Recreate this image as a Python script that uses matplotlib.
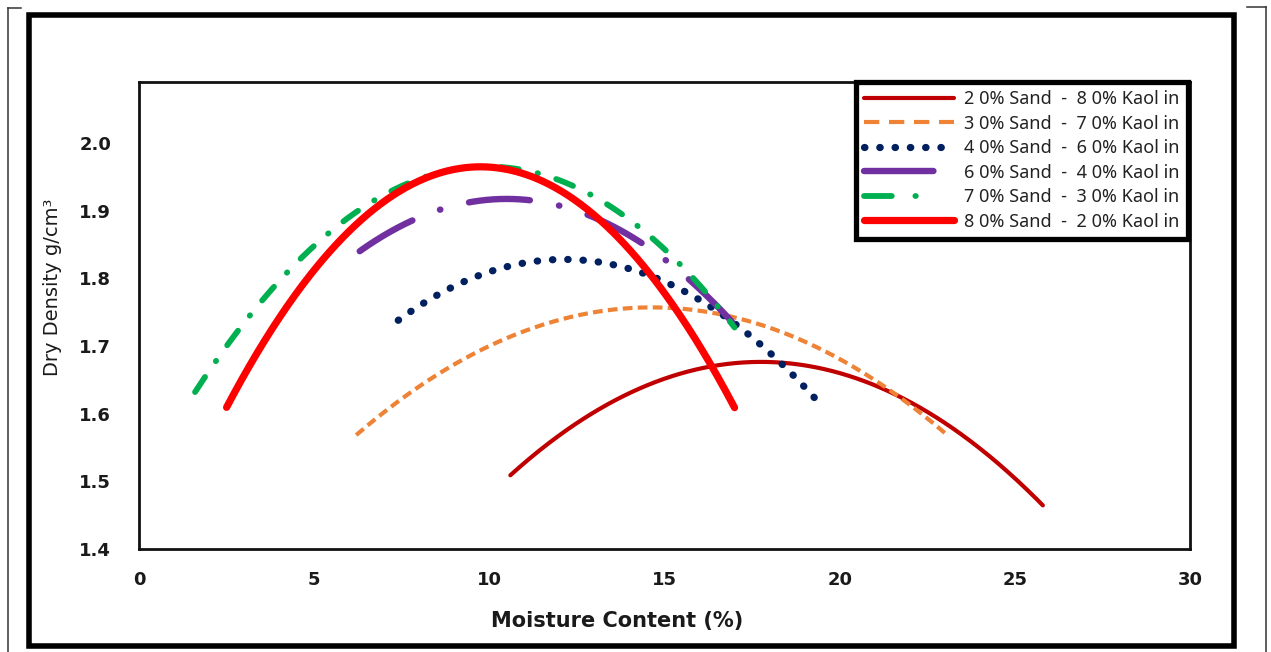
import numpy as np
import matplotlib
matplotlib.use("Agg")
import matplotlib.pyplot as plt
from matplotlib.lines import Line2D
from matplotlib.patches import Rectangle
from matplotlib.ticker import FormatStrFormatter

plt.rcParams["lines.scale_dashes"] = False
plt.rcParams["font.family"] = ["Noto Sans", "DejaVu Sans"]
AXIS_FAMILY = ["DejaVu Sans"]

# Compaction test readings: moisture content (%) vs dry density (g/cm3)
moisture_20_80 = [10.6, 13.0, 15.5, 18.0, 20.5, 23.0, 25.8]
density_20_80 = [1.508, 1.603, 1.661, 1.677, 1.651, 1.584, 1.466]

moisture_30_70 = [6.2, 9.0, 12.0, 14.6, 17.0, 20.0, 23.0]
density_30_70 = [1.568, 1.673, 1.739, 1.757, 1.742, 1.680, 1.572]

moisture_40_60 = [7.4, 9.0, 11.0, 12.1, 14.0, 16.0, 18.0, 19.5]
density_40_60 = [1.738, 1.788, 1.823, 1.828, 1.814, 1.768, 1.690, 1.611]

moisture_60_40 = [6.3, 8.0, 10.5, 13.0, 15.0, 17.3]
density_60_40 = [1.840, 1.890, 1.917, 1.890, 1.828, 1.714]

moisture_70_30 = [1.6, 4.0, 7.0, 10.0, 13.0, 15.0, 17.0]
density_70_30 = [1.632, 1.796, 1.923, 1.965, 1.921, 1.843, 1.727]

moisture_80_20 = [2.5, 5.0, 7.5, 9.8, 12.5, 15.0, 17.0]
density_80_20 = [1.610, 1.811, 1.931, 1.964, 1.914, 1.779, 1.608]

labels = [
    "2 0% Sand  -  8 0% Kaol in",
    "3 0% Sand  -  7 0% Kaol in",
    "4 0% Sand  -  6 0% Kaol in",
    "6 0% Sand  -  4 0% Kaol in",
    "7 0% Sand  -  3 0% Kaol in",
    "8 0% Sand  -  2 0% Kaol in",
]

x_ticks = [0, 5, 10, 15, 20, 25, 30]
y_ticks = [1.4, 1.5, 1.6, 1.7, 1.8, 1.9, 2.0]

W, H = 1271, 652
fig = plt.figure(figsize=(W / 100, H / 100), dpi=100)
fig.patch.set_facecolor("white")


def fx(px):
    return px / W


def fy(py):
    return 1 - py / H


ax = fig.add_axes([fx(139), fy(549), (1190 - 139) / W, (549 - 82) / H])

series = [
    (moisture_20_80, density_20_80, dict(color="#C00000", lw=3.0, solid_capstyle="round")),
    (moisture_30_70, density_30_70, dict(color="#EE8235", lw=3.0, dashes=(7, 3.8), dash_capstyle="butt")),
    (moisture_40_60, density_40_60, dict(color="#002060", lw=5.2, dashes=(0.3, 10.7), dash_capstyle="round")),
    (moisture_60_40, density_60_40, dict(color="#7030A0", lw=4.6, dashes=(44, 21.3, 0.3, 21.3), dash_capstyle="round")),
    (moisture_70_30, density_70_30, dict(color="#00B050", lw=4.2, dashes=(13, 13.8, 0.3, 13.8), dash_capstyle="round")),
    (moisture_80_20, density_80_20, dict(color="#FF0000", lw=5.2, solid_capstyle="round")),
]

for (mx, dy, style), label in zip(series, labels):
    # second-order polynomial trendline through the readings
    coef = np.polyfit(mx, dy, 2)
    xs = np.linspace(min(mx), max(mx), 400)
    ax.plot(xs, np.polyval(coef, xs), label=label, **style)

ax.set_xlim(0, 30)
ax.set_ylim(1.4, 2.09)
ax.set_xticks(x_ticks)
ax.set_yticks(y_ticks)
ax.yaxis.set_major_formatter(FormatStrFormatter("%.1f"))
ax.tick_params(axis="both", length=0, colors="#1a1a1a")
ax.tick_params(axis="x", pad=16)
ax.tick_params(axis="y", pad=20)
for t in ax.get_xticklabels() + ax.get_yticklabels():
    t.set_fontfamily(AXIS_FAMILY)
    t.set_fontweight("bold")
    t.set_fontsize(13)
for sp in ax.spines.values():
    sp.set_linewidth(2.0)
    sp.set_color("#111111")

leg = ax.legend(
    loc="upper right",
    bbox_to_anchor=(fx(1187.5), fy(82)),
    bbox_transform=fig.transFigure,
    borderaxespad=0,
    fontsize=13,
    handlelength=5.0,
    handletextpad=0.55,
    labelspacing=0.36,
    borderpad=0.45,
    frameon=True,
    fancybox=False,
    framealpha=1,
    edgecolor="black",
    labelcolor="#222222",
)
leg.get_frame().set_linewidth(3.8)
# legend samples show a single cycle of each dash pattern
leg_lines = leg.get_lines()
leg_lines[1].set_dashes((11, 7))
leg_lines[3].set_dashes((50, 200))
leg_lines[4].set_dashes((20, 17, 0.3, 200))

fig.text(fx(617), fy(621), "Moisture Content (%)", ha="center", va="center",
         fontsize=15, fontweight="bold", family=AXIS_FAMILY, color="#1a1a1a")
fig.text(fx(52), fy(287), "Dry Density g/cm³", ha="center", va="center",
         rotation=90, fontsize=14, family=AXIS_FAMILY, color="#1a1a1a")

# outer chart border
fig.add_artist(Rectangle((fx(29), fy(646)), (1233.5 - 29) / W, (646 - 15) / H,
                         transform=fig.transFigure, fill=False, lw=4.0,
                         edgecolor="black", joinstyle="miter"))

# thin page rules at the sides
for seg in [((7.5, 8), (7.5, 652)), ((7.5, 8), (21, 8)),
            ((1266, 7), (1266, 652)), ((1247, 7), (1266, 7))]:
    (x0, y0), (x1, y1) = seg
    fig.add_artist(Line2D([fx(x0), fx(x1)], [fy(y0), fy(y1)],
                          transform=fig.transFigure, lw=1.1, color="#333333"))

fig.savefig("out.png", dpi=100, facecolor="white")
